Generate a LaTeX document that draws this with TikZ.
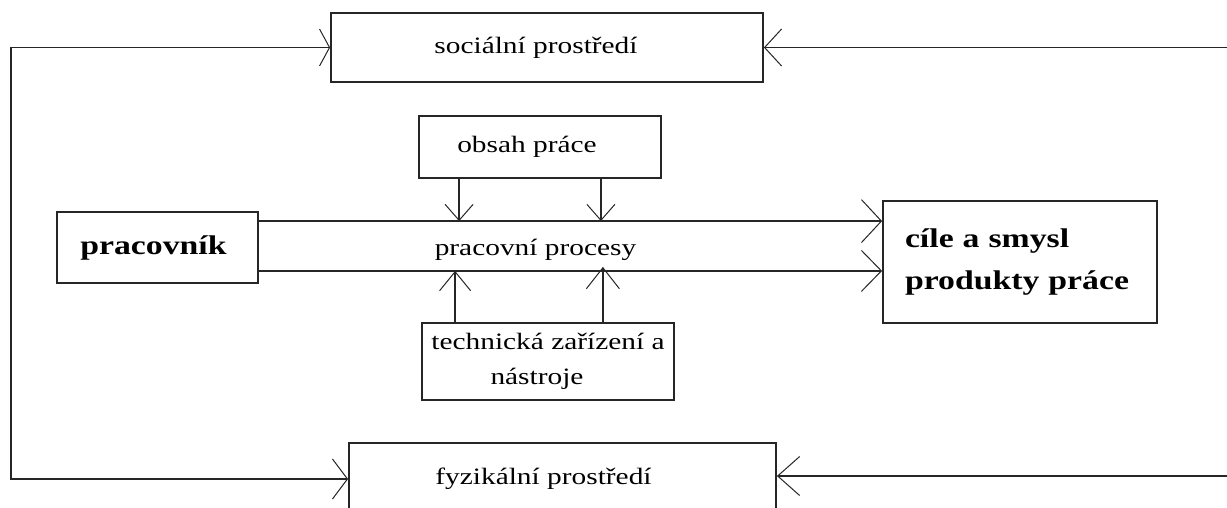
\documentclass[tikz,border=0pt]{standalone}
\usepackage{fontspec}
\setmainfont{Liberation Serif}[FakeStretch=1.25]
\usetikzlibrary{arrows.meta}
\newcommand\diagfont{\fontsize{23.5}{35}\selectfont}
\newcommand\diagbold{\fontsize{27}{42}\selectfont\bfseries}
\begin{document}
\begin{tikzpicture}[x=1pt,y=-1pt,
  box/.style={draw=black!85, line width=1.8pt, inner sep=0pt, font=\diagfont},
  conn/.style={draw=black!85, line width=1.9pt},
  tip/.style 2 args={-{Straight Barb[length=#1,width=#2,line width=1pt]}}]
  \useasboundingbox (0,0) rectangle (1227,507);
  \clip (0,0) rectangle (1227,507);
  \fill[white] (0,0) rectangle (1227,507);

  % environment boxes
  \node[box, minimum width=432pt, minimum height=69pt] (soc) at (547,47.5)
    {sociální prostředí\kern 22pt};
  \node[box, minimum width=427pt, minimum height=72pt] (fyz) at (562.5,479)
    {fyzikální prostředí\kern 38pt};

  % worker, goals, inputs
  \node[box, minimum width=201pt, minimum height=71pt, font=\diagbold] (prac) at (157.5,247.5)
    {pracovník\kern 8pt};
  \node[box, minimum width=274pt, minimum height=122pt, text width=230pt, align=left,
        font=\diagbold] (cile) at (1020,262)
    {cíle a smysl\\produkty práce\\[-14pt]};
  \node[box, minimum width=242pt, minimum height=62pt] (obsah) at (540,147)
    {obsah práce\kern 26pt};
  \node[box, minimum width=252pt, minimum height=77pt, align=center] (tech) at (548,361.5)
    {technická zařízení a\\nástroje\kern 22pt};

  % the work process channel
  \node[font=\diagfont, inner sep=0pt, anchor=base] (proc) at (535.5,255) {pracovní procesy};
  \coordinate (ptop) at ([yshift=-10pt]prac.north east);
  \coordinate (pbot) at ([yshift=13pt]prac.south east);
  \draw[conn, tip={20pt}{43pt}] (ptop) -- (ptop -| cile.west);
  \draw[conn, tip={20pt}{41pt}] (pbot) -- (pbot -| cile.west);

  % content of work flows down into the process
  \coordinate (d1) at ([xshift=41pt]obsah.south west);
  \coordinate (d2) at ([xshift=-61pt]obsah.south east);
  \draw[conn, tip={16pt}{28pt}] (d1) -- (d1 |- ptop);
  \draw[conn, tip={16pt}{28pt}] (d2) -- (d2 |- ptop);

  % tools feed up into the process
  \coordinate (u1) at ([xshift=34pt]tech.north west);
  \coordinate (u2) at ([xshift=-72pt]tech.north east);
  \draw[conn, tip={19pt}{31pt}] (u1) -- (u1 |- pbot);
  \draw[conn, tip={21pt}{33pt}] (u2) -- ([yshift=4pt]u2 |- pbot);

  % outer feedback loops
  \coordinate (lc) at (11,479);
  \draw[conn, arrows={Straight Barb[length=15pt,width=40pt,line width=1pt]-Straight Barb[length=10pt,width=37pt,line width=1pt]}]
    (fyz.west) -- (lc) |- (soc.west);
  \coordinate (rt) at (1230,47.5);
  \coordinate (rb) at (1230,476);
  \draw[conn, tip={17pt}{37pt}] (rt) -- (soc.east);
  \draw[conn, tip={22pt}{39pt}] (rb) -- (rb -| fyz.east);
\end{tikzpicture}
\end{document}
